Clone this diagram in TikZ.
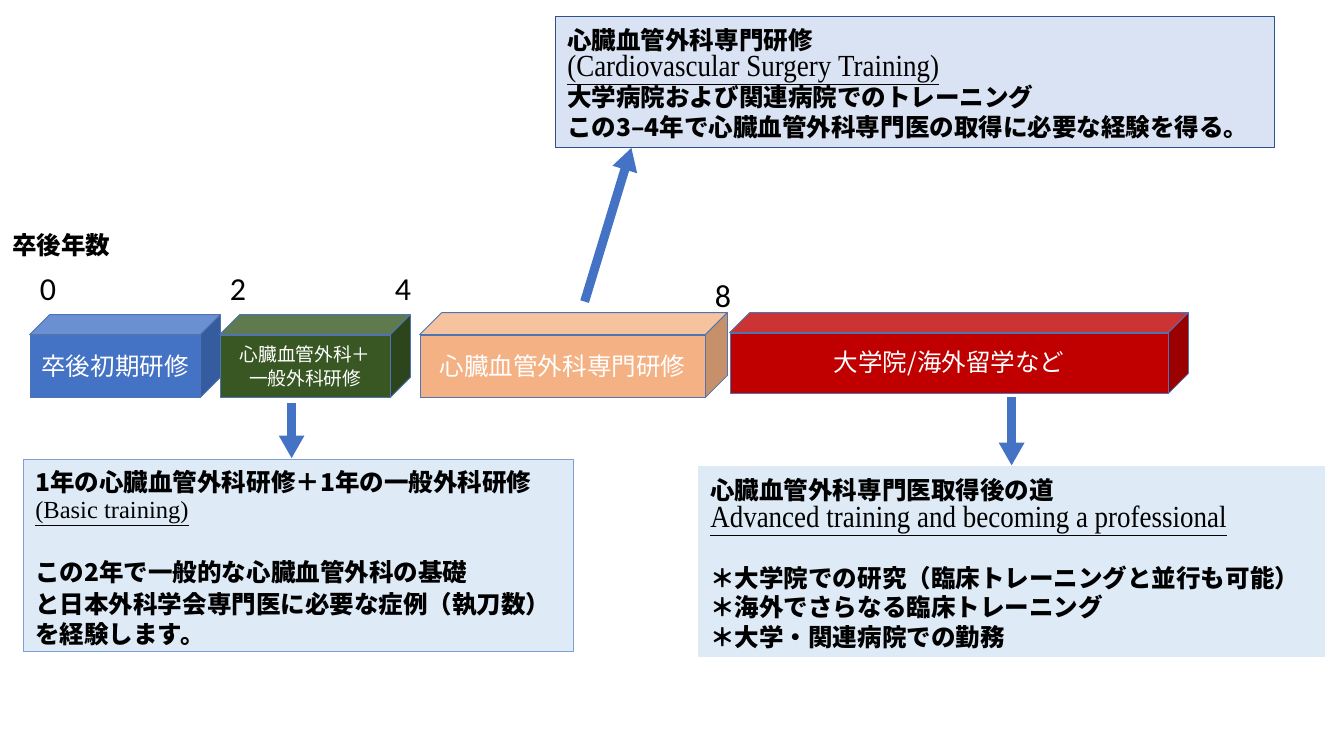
\documentclass[tikz,border=0pt]{standalone}
\usepackage{fontspec}
\setmainfont{Liberation Serif}
\newfontfamily\jp{Noto Sans CJK JP}
\newfontfamily\calf{Carlito}
\newfontfamily\condf[FakeStretch=0.88]{Liberation Serif}
\usetikzlibrary{arrows.meta,calc}
\definecolor{blueF}{HTML}{4472C4}
\definecolor{blueT}{HTML}{6A8FD3}
\definecolor{blueS}{HTML}{355C9E}
\definecolor{greenF}{HTML}{385723}
\definecolor{greenT}{HTML}{5F7A4E}
\definecolor{greenS}{HTML}{2C451C}
\definecolor{peachF}{HTML}{F4B183}
\definecolor{peachT}{HTML}{F6C39F}
\definecolor{peachS}{HTML}{C5906A}
\definecolor{redF}{HTML}{C00000}
\definecolor{redT}{HTML}{CC3333}
\definecolor{redS}{HTML}{9A0000}
\definecolor{edgeC}{HTML}{4F74B3}
\definecolor{arrowC}{HTML}{4472C4}
\definecolor{topFill}{HTML}{DAE3F3}
\definecolor{topEdge}{HTML}{2F528F}
\definecolor{noteFill}{HTML}{DEEBF7}
\definecolor{noteEdge}{HTML}{7FA0D6}
\newcommand\cubefaces[4]{%
  \filldraw[fill=#3, edgeline] (#1.north west) -- ++(#2,-#2) -- ($(#1.north east)+(#2,-#2)$) -- (#1.north east) -- cycle;
  \filldraw[fill=#4, edgeline] (#1.north east) -- ++(#2,-#2) -- ($(#1.south east)+(#2,-#2)$) -- (#1.south east) -- cycle;
}
\begin{document}
\begin{tikzpicture}[x=0.75pt,y=-0.75pt,
  edgeline/.style={draw=edgeC, line width=0.6pt, line join=round},
  front/.style={draw=edgeC, line width=0.6pt, rectangle, inner sep=0pt, text=white, align=center,
    font=\jp\fontsize{18.4pt}{22pt}\selectfont},
  txt/.style={anchor=base west, inner sep=0pt},
  jpb/.style={font=\jp\bfseries\fontsize{18.4pt}{22pt}\selectfont},
  encond/.style={font=\condf\fontsize{23pt}{26pt}\selectfont},
  enreg/.style={font=\fontsize{18.4pt}{22pt}\selectfont},
  year/.style={anchor=base, inner sep=0pt, font=\calf\fontsize{24pt}{28pt}\selectfont},
  blockarrow/.style={draw=arrowC, line width=6.75pt, line cap=butt,
    -{Triangle[length=17.25pt,width=18pt]}},
  notebox/.style={rectangle, inner sep=0pt}
]
\useasboundingbox (0,0) rectangle (1333,750);

% header and years
\node[txt, jpb] (hdr) at (12,254) {卒後年数};
\node[year] (y0) at (48,300) {0};
\node[year] (y2) at (238,300) {2};
\node[year] (y4) at (403,300) {4};
\node[year] (y8) at (723,307) {8};

% 3D boxes
\node[front, fill=blueF, minimum width=127.5pt, minimum height=46.5pt] (b1) at (115,366) {卒後初期研修};
\cubefaces{b1}{20}{blueT}{blueS}
\node[front, fill=greenF, minimum width=127.5pt, minimum height=46.5pt,
  font=\jp\fontsize{14pt}{18pt}\selectfont] (b2) at (305,366) {心臓血管外科＋\\一般外科研修};
\cubefaces{b2}{20}{greenT}{greenS}
\node[front, fill=peachF, minimum width=213.75pt, minimum height=46.5pt] (b3) at (562.5,366) {心臓血管外科専門研修};
\cubefaces{b3}{22}{peachT}{peachS}
\node[front, fill=redF, minimum width=328.5pt, minimum height=45pt] (b4) at (949,363) {大学院/海外留学など};
\cubefaces{b4}{20}{redT}{redS}

% top note box
\node[notebox, fill=topFill, draw=topEdge, line width=0.75pt, minimum width=539.25pt, minimum height=98.25pt] (tb) at (914.5,81.5) {};
\node[txt, jpb] at (567,49) {心臓血管外科専門研修};
\node[txt, encond] at (567,76) {\underline{(Cardiovascular Surgery Training)}};
\node[txt, jpb] at (567,106) {大学病院および関連病院でのトレーニング};
\node[txt, jpb] at (567,136) {この3–4年で心臓血管外科専門医の取得に必要な経験を得る。};

% left note box
\node[notebox, fill=noteFill, draw=noteEdge, line width=0.75pt, minimum width=412.5pt, minimum height=144pt] (lb) at (298,555) {};
\node[txt, jpb] at (35,491) {1年の心臓血管外科研修＋1年の一般外科研修};
\node[txt, enreg] at (35,518) {\underline{(Basic training)}};
\node[txt, jpb] at (35,581) {この2年で一般的な心臓血管外科の基礎};
\node[txt, jpb] at (35,613) {と日本外科学会専門医に必要な症例（執刀数）};
\node[txt, jpb] at (35,643) {を経験します。};

% right note box
\node[notebox, fill=noteFill, minimum width=470.25pt, minimum height=143.25pt] (rb) at (1011.5,561.5) {};
\node[txt, jpb] at (710,499) {心臓血管外科専門医取得後の道};
\node[txt, encond] at (710,527) {\underline{Advanced training and becoming a professional}};
\node[txt, jpb] at (710,587) {＊大学院での研究（臨床トレーニングと並行も可能）};
\node[txt, jpb] at (710,616) {＊海外でさらなる臨床トレーニング};
\node[txt, jpb] at (710,646) {＊大学・関連病院での勤務};

% arrows
\coordinate (a1s) at ($(b3.north west)+(165,-33)$);
\coordinate (a1e) at ($(tb.south west)+(77,0)$);
\draw[blockarrow] (a1s) -- (a1e);
\coordinate (a2s) at ($(b2.south west)+(72,6)$);
\coordinate (a2e) at (a2s |- lb.north);
\draw[blockarrow] (a2s) -- (a2e);
\coordinate (a3s) at ($(b4.south west)+(282,4)$);
\coordinate (a3e) at (a3s |- rb.north);
\draw[blockarrow] (a3s) -- (a3e);
\end{tikzpicture}
\end{document}
